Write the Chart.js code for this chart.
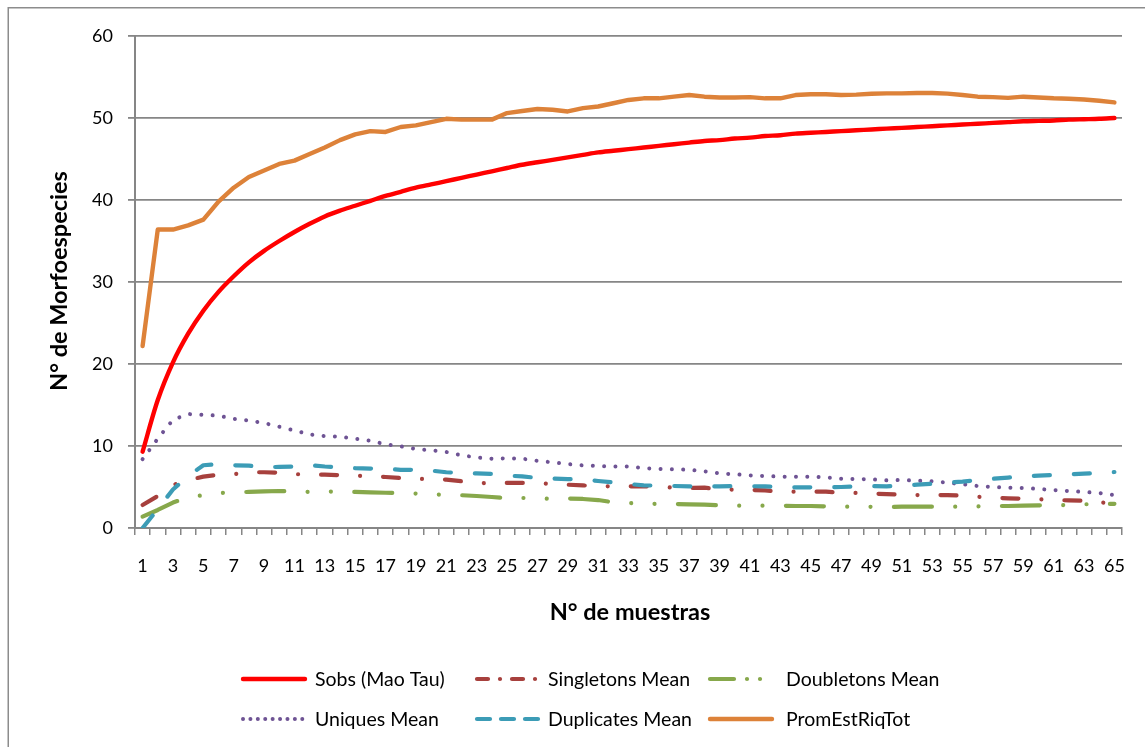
<!DOCTYPE html>
<html>
<head>
<meta charset="utf-8">
<script src="https://cdn.jsdelivr.net/npm/chart.js@4/dist/chart.umd.min.js"></script>
<style>
  html, body { margin: 0; padding: 0; background: #ffffff; }
  #wrap { position: relative; width: 1145px; height: 747px; }
  canvas { display: block; }
</style>
</head>
<body>
<div id="wrap"><canvas id="c" width="1145" height="747"></canvas></div>
<script>
// ---- Data ----
const categories = ["1","2","3","4","5","6","7","8","9","10","11","12","13","14","15","16","17","18","19","20",
  "21","22","23","24","25","26","27","28","29","30","31","32","33","34","35","36","37","38","39","40",
  "41","42","43","44","45","46","47","48","49","50","51","52","53","54","55","56","57","58","59","60",
  "61","62","63","64","65"];

const seriesNames = ["Sobs (Mao Tau)", "Singletons Mean", "Doubletons Mean", "Uniques Mean", "Duplicates Mean", "PromEstRiqTot"];

const sobs = [9.3,15.6,20.2,23.7,26.5,28.8,30.7,32.4,33.8,35.0,
  36.1,37.1,38.0,38.7,39.3,39.9,40.5,41.0,41.5,41.9,
  42.3,42.7,43.1,43.5,43.9,44.3,44.6,44.9,45.2,45.5,
  45.8,46.0,46.2,46.4,46.6,46.8,47.0,47.2,47.3,47.5,
  47.6,47.8,47.9,48.1,48.2,48.3,48.4,48.5,48.6,48.7,
  48.8,48.9,49.0,49.1,49.2,49.3,49.4,49.5,49.6,49.65,
  49.7,49.8,49.85,49.9,50.0];

const singletons = [2.8,3.9,5.24,5.85,6.26,6.5,6.57,6.8,6.8,6.75,
  6.57,6.5,6.5,6.45,6.37,6.3,6.22,6.1,6.0,5.96,
  5.9,5.7,5.49,5.45,5.5,5.5,5.45,5.37,5.28,5.2,
  5.08,5.08,5.08,5.08,5.0,4.92,4.88,4.92,4.7,4.67,
  4.63,4.59,4.43,4.43,4.43,4.43,4.3,4.27,4.2,4.14,
  4.06,4.02,4.02,4.02,3.94,3.82,3.7,3.62,3.58,3.5,
  3.41,3.37,3.33,3.13,3.0];

const doubletons = [1.38,2.2,3.1,3.74,4.0,4.25,4.35,4.4,4.47,4.51,
  4.47,4.4,4.47,4.4,4.4,4.35,4.3,4.25,4.2,4.1,
  4.05,4.0,3.9,3.78,3.66,3.66,3.62,3.54,3.6,3.54,
  3.41,3.13,3.05,2.97,2.93,2.93,2.89,2.85,2.77,2.72,
  2.72,2.72,2.72,2.68,2.68,2.64,2.6,2.6,2.58,2.56,
  2.6,2.6,2.6,2.6,2.6,2.64,2.68,2.68,2.72,2.76,
  2.76,2.8,2.89,2.93,2.95];

const uniques = [8.4,10.9,13.2,13.9,13.8,13.7,13.3,13.1,12.8,12.35,
  11.9,11.4,11.2,11.15,10.9,10.65,10.2,9.96,9.63,9.47,
  9.27,8.87,8.6,8.45,8.5,8.45,8.2,8.0,7.8,7.64,
  7.56,7.5,7.5,7.3,7.2,7.16,7.1,6.9,6.66,6.55,
  6.42,6.34,6.26,6.26,6.26,6.18,6.0,5.98,5.93,5.81,
  5.85,5.77,5.7,5.53,5.33,5.12,5.0,4.92,4.88,4.76,
  4.63,4.51,4.39,4.27,4.02];

const duplicates = [0,2.3,4.7,6.34,7.65,7.8,7.65,7.6,7.4,7.45,
  7.5,7.65,7.5,7.4,7.3,7.25,7.2,7.1,7.1,7.0,
  6.8,6.7,6.66,6.6,6.38,6.3,6.1,6.03,5.96,5.9,
  5.73,5.57,5.37,5.2,5.16,5.12,5.08,5.04,5.08,5.12,
  5.1,5.08,5.0,4.96,4.96,4.96,5.0,5.08,5.1,5.08,
  5.16,5.28,5.4,5.53,5.65,5.85,6.0,6.15,6.3,6.38,
  6.46,6.54,6.62,6.74,6.83];

const promEstRiqTot = [22.2,36.4,36.4,36.9,37.6,39.8,41.5,42.8,43.6,44.4,
  44.8,45.6,46.4,47.3,48.0,48.4,48.3,48.9,49.1,49.5,
  49.9,49.8,49.8,49.8,50.6,50.85,51.1,51.0,50.8,51.2,
  51.4,51.8,52.2,52.4,52.4,52.6,52.8,52.6,52.5,52.5,
  52.55,52.4,52.4,52.8,52.9,52.9,52.8,52.85,52.95,53.0,
  53.0,53.05,53.05,52.97,52.8,52.6,52.55,52.45,52.6,52.5,
  52.4,52.35,52.25,52.1,51.9];

const yTicks = [0, 10, 20, 30, 40, 50, 60];
const xTitle = "N° de muestras";
const yTitle = "N° de Morfoespecies";

// ---- Styles ----
const FONT = "Lato, 'Open Sans', 'Liberation Sans', sans-serif";
const GRID = "#868686";
const styles = [
  { color: "#FF0000", width: 4.4, dash: [], legendDash: [] },
  { color: "#A7403D", width: 4.2, dash: [16, 23, 0.01, 23], legendDash: [11, 12, 0.01, 12] },
  { color: "#87A84B", width: 4.2, dash: [38, 23.3, 0.01, 23.3, 0.01, 23.4], legendDash: [24, 13, 0.01, 13, 0.01, 13] },
  { color: "#6E5394", width: 4, dash: [0.01, 11.3], legendDash: [0.01, 7.4] },
  { color: "#3C9CB6", width: 4.2, dash: [16, 24], legendDash: [13, 11] },
  { color: "#DD8239", width: 4.4, dash: [], legendDash: [] }
];
const seriesData = [sobs, singletons, doubletons, uniques, duplicates, promEstRiqTot];

const datasets = seriesData.map((d, i) => ({
  label: seriesNames[i],
  data: d,
  borderColor: styles[i].color,
  backgroundColor: styles[i].color,
  borderWidth: styles[i].width,
  borderDash: styles[i].dash,
  borderCapStyle: "round",
  borderJoinStyle: "round",
  pointRadius: 0,
  pointHoverRadius: 0,
  tension: i === 0 ? 0.3 : 0,
  fill: false,
  order: 6 - i
}));

const extras = {
  id: "extras",
  beforeDraw(chart) {
    const ctx = chart.ctx;
    ctx.save();
    ctx.fillStyle = "#ffffff";
    ctx.fillRect(0, 0, chart.width, chart.height);
    ctx.strokeStyle = "#8C8C8C";
    ctx.lineWidth = 1.5;
    ctx.beginPath();
    ctx.moveTo(8.25, 747);
    ctx.lineTo(8.25, 7.75);
    ctx.lineTo(1145, 7.75);
    ctx.stroke();
    ctx.restore();
  },
  afterDraw(chart) {
    const ctx = chart.ctx;
    ctx.save();
    ctx.fillStyle = "#000000";
    // axis titles
    ctx.font = "bold 23.5px " + FONT;
    ctx.textAlign = "center";
    ctx.textBaseline = "middle";
    ctx.fillText(xTitle, 630, 612);
    ctx.save();
    ctx.translate(59, 281);
    ctx.rotate(-Math.PI / 2);
    ctx.fillText(yTitle, 0, 0);
    ctx.restore();
    // legend
    const colLine = [241, 475, 708];
    const colText = [315, 548, 786];
    const rowY = [679, 719];
    ctx.font = "19.5px " + FONT;
    ctx.textAlign = "left";
    chart.data.datasets.forEach((ds, i) => {
      const r = Math.floor(i / 3), c = i % 3;
      const y = rowY[r];
      ctx.save();
      ctx.strokeStyle = ds.borderColor;
      ctx.lineWidth = ds.borderWidth;
      ctx.lineCap = "round";
      ctx.setLineDash(styles[i].legendDash);
      ctx.beginPath();
      ctx.moveTo(colLine[c] + 2, y);
      ctx.lineTo(colLine[c] + 64, y);
      ctx.stroke();
      ctx.restore();
      ctx.fillStyle = "#000000";
      ctx.fillText(ds.label, colText[c], y + 1);
    });
    ctx.restore();
  }
};

new Chart(document.getElementById("c"), {
  type: "line",
  data: { labels: categories, datasets },
  options: {
    responsive: false,
    animation: false,
    events: [],
    layout: { padding: { top: 36, right: 19, left: 0, bottom: 0 } },
    plugins: { legend: { display: false }, tooltip: { enabled: false }, title: { display: false } },
    scales: {
      x: {
        type: "category",
        offset: true,
        afterFit(scale) { scale.height = 219; },
        grid: { display: true, offset: true, drawOnChartArea: false, drawTicks: true, tickLength: 7, color: GRID, lineWidth: 1.5 },
        border: { display: true, color: GRID, width: 2 },
        ticks: {
          autoSkip: false, maxRotation: 0, minRotation: 0, padding: 20,
          color: "#000000", font: { family: FONT, size: 18 },
          callback(v, idx) { return idx % 2 === 0 ? categories[idx] : ""; }
        }
      },
      y: {
        min: 0, max: 60,
        afterFit(scale) { scale.width = 135; },
        afterBuildTicks(scale) { scale.ticks = yTicks.map(v => ({ value: v })); },
        grid: { color: GRID, lineWidth: 1.8, tickLength: 7, drawTicks: true },
        border: { display: true, color: GRID, width: 2 },
        ticks: { stepSize: 10, padding: 15, color: "#000000", font: { family: FONT, size: 18 } }
      }
    }
  },
  plugins: [extras]
});
</script>
</body>
</html>
